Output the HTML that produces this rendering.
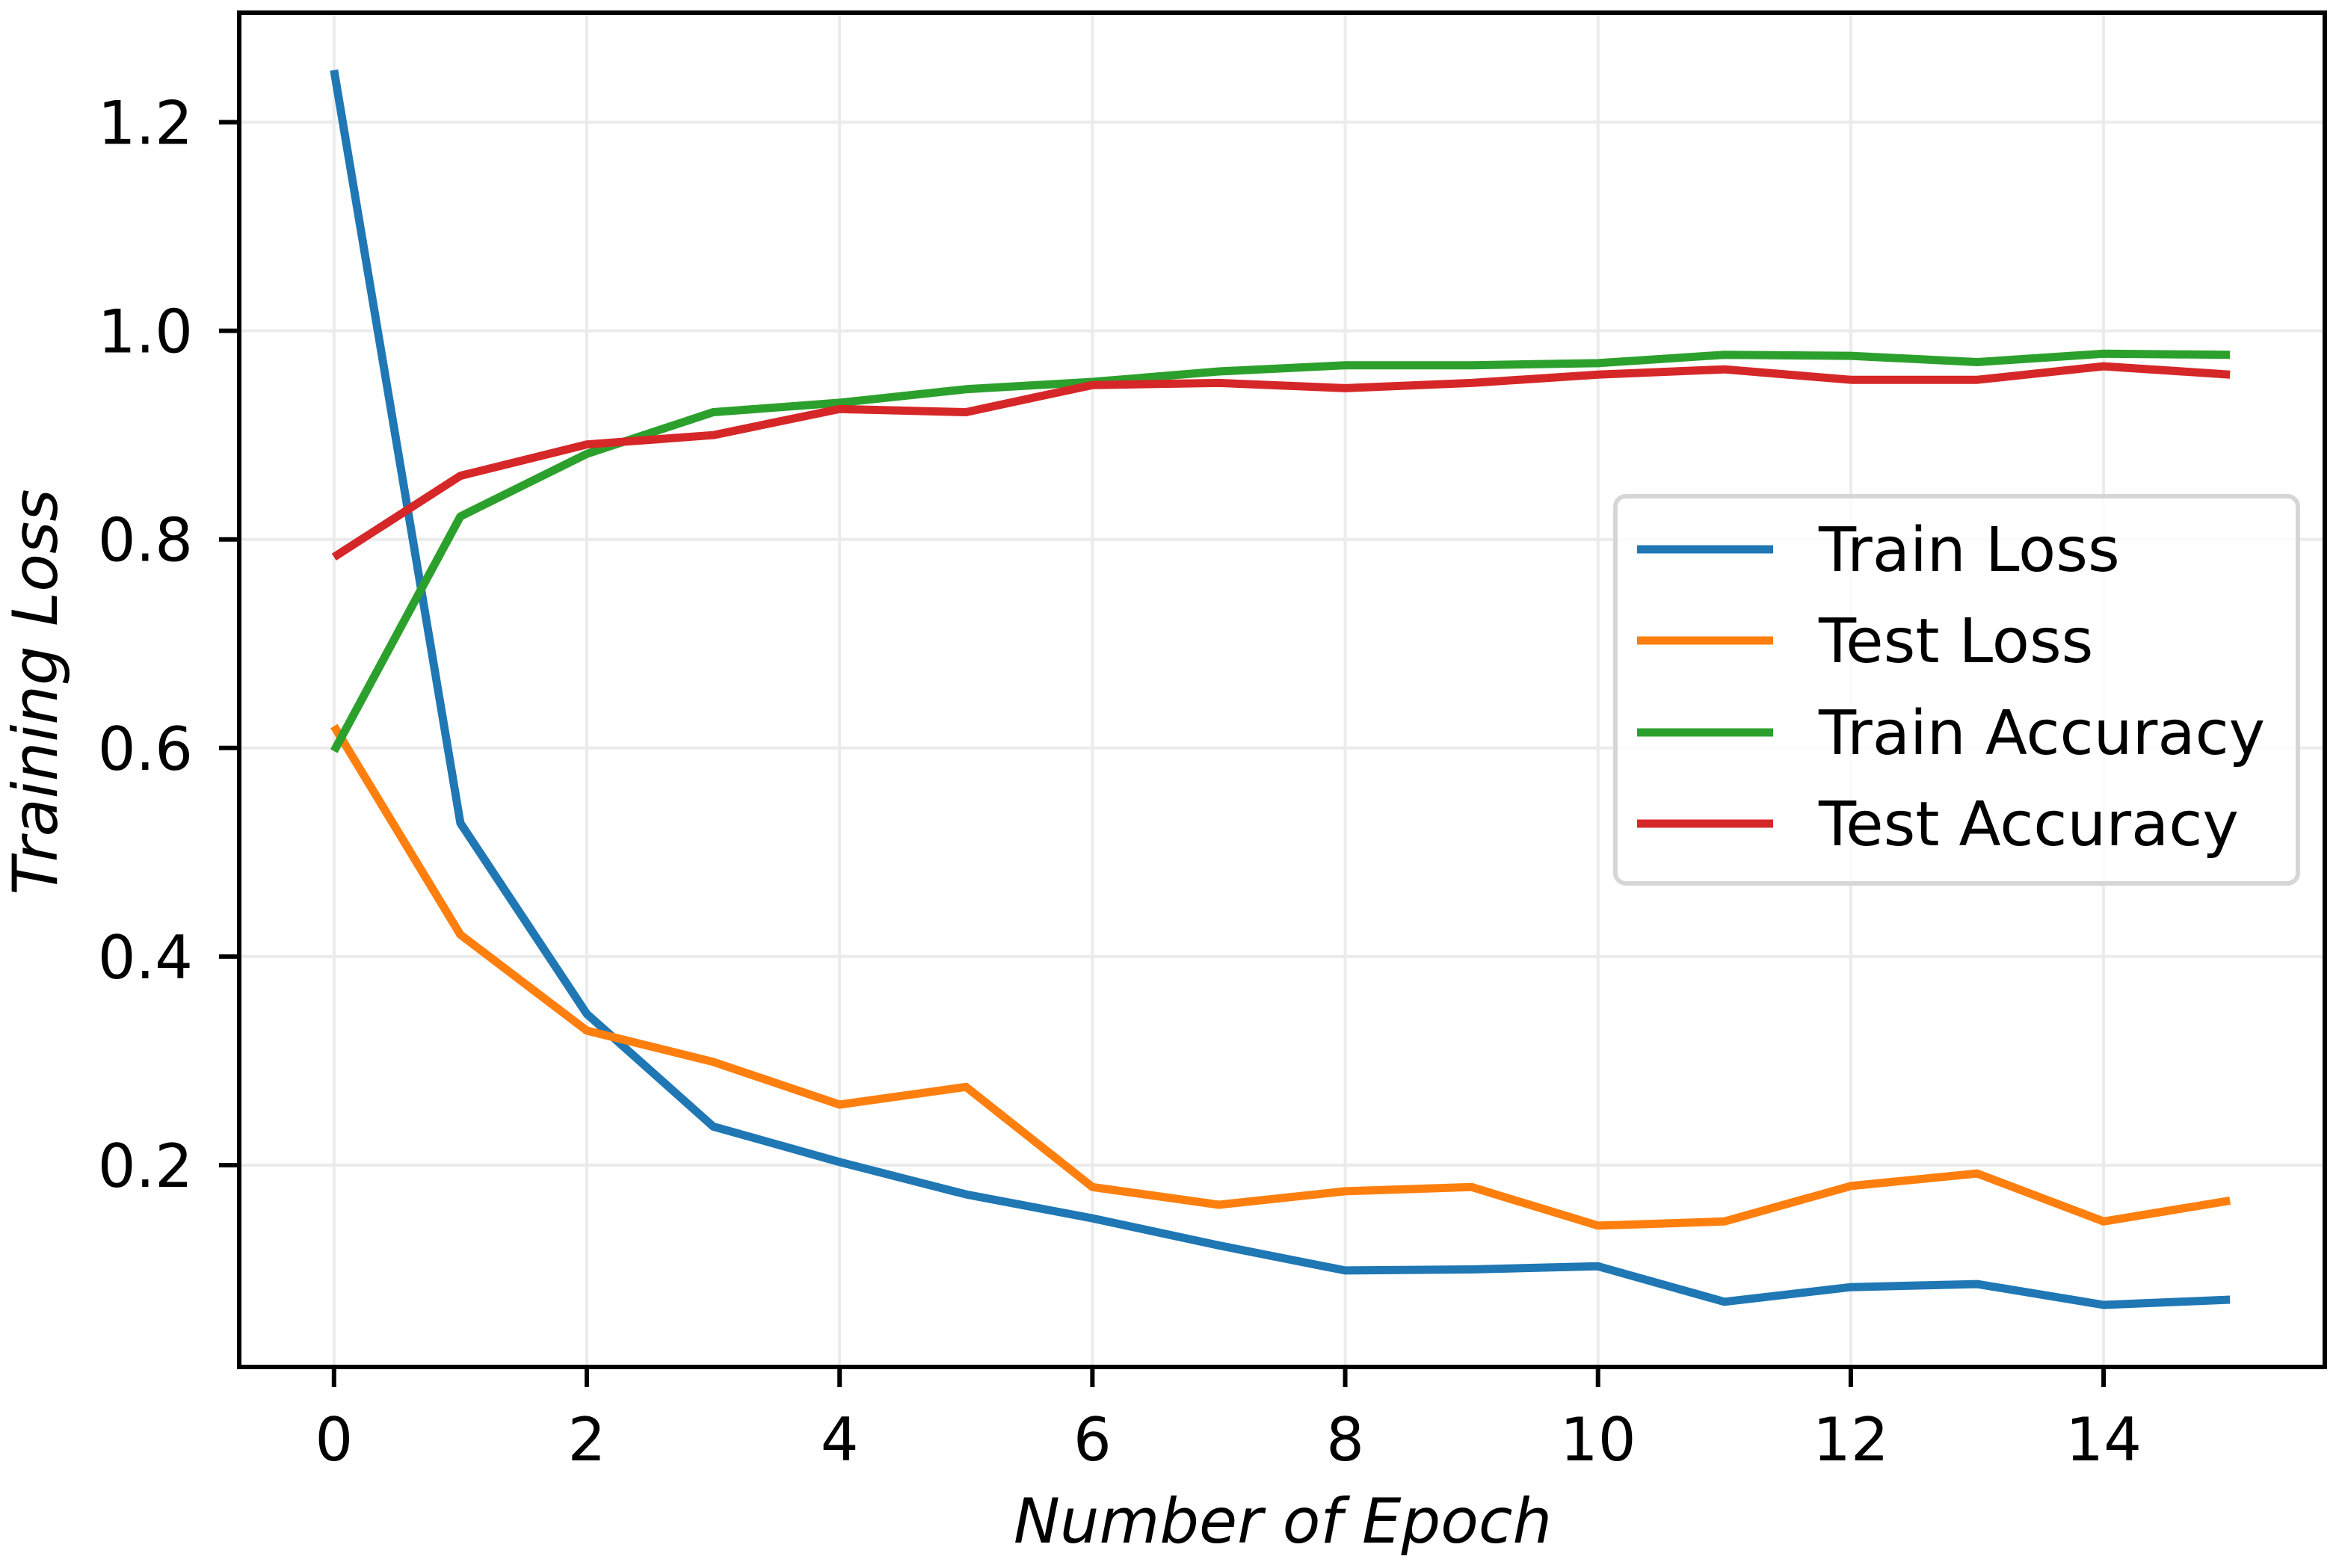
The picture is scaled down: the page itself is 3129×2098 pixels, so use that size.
<!DOCTYPE html>
<html><head><meta charset="utf-8"><style>
html,body{margin:0;padding:0;background:#fff;}
svg{display:block;font-family:"DejaVu Sans","Liberation Sans",sans-serif;}
</style></head><body>
<svg id="chart" width="3129" height="2098" viewBox="0 0 3129 2098" xmlns="http://www.w3.org/2000/svg">
<rect width="3129" height="2098" fill="#fff"/>
<g id="grid"></g>
<g id="series"></g>
<rect x="320" y="17" width="2790" height="1812" fill="none" stroke="#000" stroke-width="6"/>
<g id="ticks"></g>
<text x="1716" y="2064" font-size="83" font-style="italic" text-anchor="middle">Number of Epoch</text>
<text transform="translate(76,926) rotate(-90)" font-size="83" font-style="italic" text-anchor="middle">Training Loss</text>
<g id="legend"></g>
</svg>
<script>
const epochs = [0,1,2,3,4,5,6,7,8,9,10,11,12,13,14,15];
const trainLoss = [1.250,0.528,0.345,0.237,0.203,0.172,0.149,0.123,0.099,0.100,0.103,0.069,0.083,0.086,0.066,0.071];
const testLoss = [0.621,0.421,0.329,0.299,0.258,0.275,0.179,0.162,0.175,0.179,0.142,0.146,0.180,0.192,0.146,0.166];
const trainAcc = [0.597,0.822,0.882,0.922,0.931,0.944,0.951,0.961,0.967,0.967,0.969,0.977,0.976,0.970,0.978,0.977];
const testAcc = [0.783,0.861,0.891,0.900,0.925,0.922,0.948,0.950,0.945,0.950,0.958,0.963,0.953,0.953,0.966,0.958];
const xTicks = [0,2,4,6,8,10,12,14];
const yTicks = [0.2,0.4,0.6,0.8,1.0,1.2];
const seriesNames = ["Train Loss","Test Loss","Train Accuracy","Test Accuracy"];

const NS="http://www.w3.org/2000/svg";
const X0=320,X1=3110,Y0=17,Y1=1829;
const xMin=-0.75,xMax=15.75,yMin=0.0065,yMax=1.305;
function sx(v){return X0+(v-xMin)/(xMax-xMin)*(X1-X0);}
function sy(v){return Y1-(v-yMin)/(yMax-yMin)*(Y1-Y0);}
function mk(tag,attrs,parent){const e=document.createElementNS(NS,tag);for(const k in attrs)e.setAttribute(k,attrs[k]);parent.appendChild(e);return e;}
const grid=document.getElementById('grid'),ticks=document.getElementById('ticks'),ser=document.getElementById('series'),leg=document.getElementById('legend');
xTicks.forEach(t=>{
  const g=mk('line',{x1:sx(t),x2:sx(t),y1:Y0,y2:Y1,stroke:'#ebebeb','stroke-width':4},grid);
  
  
  const tk=mk('line',{x1:sx(t),x2:sx(t),y1:Y1,y2:Y1+27,stroke:'#000','stroke-width':6},ticks);
  
  
  const lb=mk('text',{x:sx(t),y:1954,'font-size':80,'text-anchor':'middle'},ticks);
  lb.textContent=String(t);
  
  
});
yTicks.forEach(t=>{
  const g=mk('line',{x1:X0,x2:X1,y1:sy(t),y2:sy(t),stroke:'#ebebeb','stroke-width':4},grid);
  
  
  const tk=mk('line',{x1:X0-27,x2:X0,y1:sy(t),y2:sy(t),stroke:'#000','stroke-width':6},ticks);
  
  
  const lb=mk('text',{x:258,y:sy(t)+29,'font-size':80,'text-anchor':'end'},ticks);
  lb.textContent=t.toFixed(1);
  
  
});
const colors=['#1f77b4','#ff7f0e','#2ca02c','#d62728'];
const data=[trainLoss,testLoss,trainAcc,testAcc];
const lineNames=['train-loss-line','test-loss-line','train-accuracy-line','test-accuracy-line'];
data.forEach((arr,i)=>{
  const pts=arr.map((v,j)=>sx(epochs[j]).toFixed(1)+','+sy(v).toFixed(1)).join(' ');
  const p=mk('polyline',{points:pts,fill:'none',stroke:colors[i],'stroke-width':11,'stroke-linejoin':'round','stroke-linecap':'butt'},ser);
  
  
});
const box=mk('rect',{x:2161,y:664,width:913,height:518,rx:14,fill:'#fff','fill-opacity':0.8,stroke:'#d6d6d6','stroke-width':6},leg);


const rowY=[735,857,980,1102];
seriesNames.forEach((n,i)=>{
  const yy=rowY[i];
  const l=mk('line',{x1:2190,x2:2372,y1:yy,y2:yy,stroke:colors[i],'stroke-width':11},leg);
  
  
  const t=mk('text',{x:2433,y:yy+29,'font-size':82},leg);
  t.textContent=n;
  
  
});
</script>
</body></html>
